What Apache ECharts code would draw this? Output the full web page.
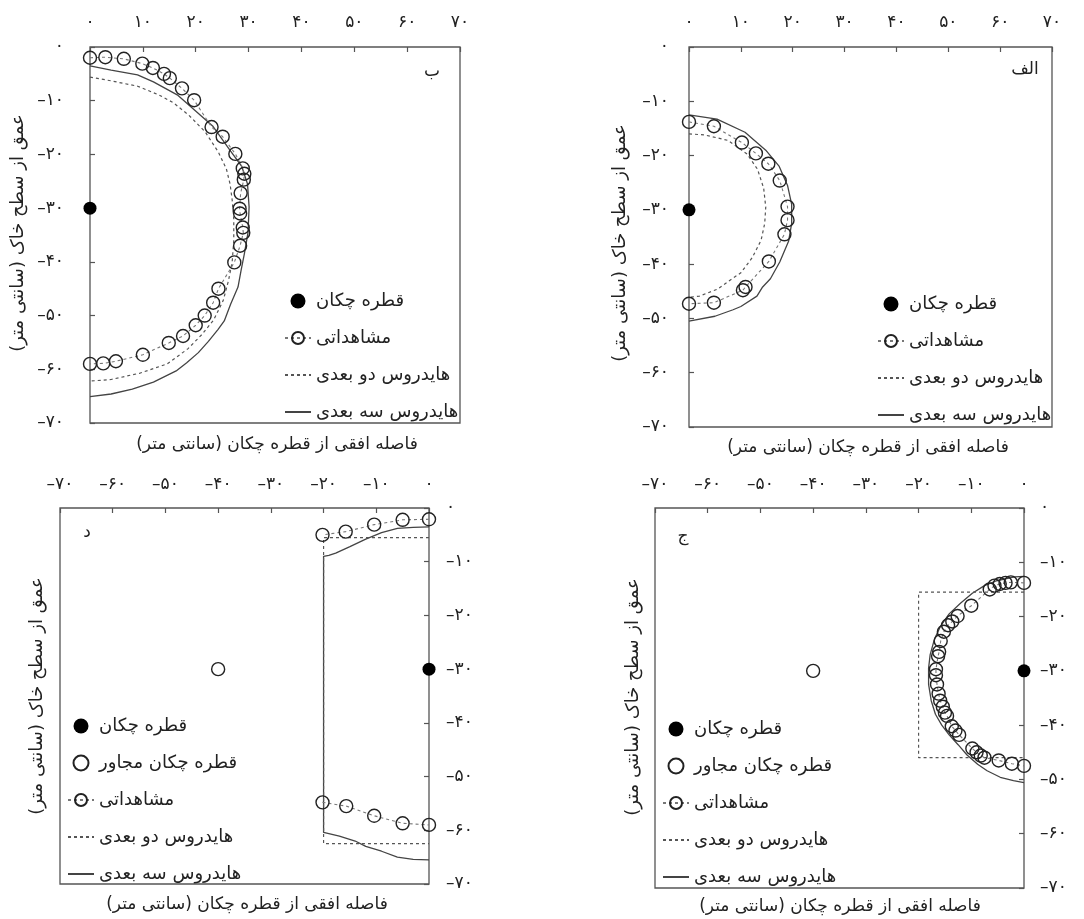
<!DOCTYPE html>
<html lang="en">
<head>
<meta charset="UTF-8">
<title>Wetting front - HYDRUS 2D / 3D</title>
<style>
    html, body { margin: 0; padding: 0; background: #fff; }
    #chart { width: 1084px; height: 919px; }
</style>
</head>
<body>
<div id="chart"></div>
<script src="https://cdn.jsdelivr.net/npm/echarts@6/dist/echarts.min.js"></script>
<script>
// ---- tick labels (Persian digits) ----
var posXLabels = ['۰', '۱۰', '۲۰', '۳۰', '۴۰', '۵۰', '۶۰', '۷۰'];
var negXLabels = ['–۷۰', '–۶۰', '–۵۰', '–۴۰', '–۳۰', '–۲۰', '–۱۰', '۰'];
var depthLabels = ['۰', '–۱۰', '–۲۰', '–۳۰', '–۴۰', '–۵۰', '–۶۰', '–۷۰'];

// ---- names ----
var RLM = '\u200F';
var nameEmitter = 'قطره چکان';
var nameNeighbor = 'قطره چکان مجاور';
var nameObserved = 'مشاهداتی';
var name2D = 'هایدروس دو بعدی';
var name3D = 'هایدروس سه بعدی';
var xTitle = 'فاصله افقی از قطره چکان (سانتی متر)' + RLM;
var yTitle = 'عمق از سطح خاک (سانتی متر)' + RLM;

// ---- panel الف ----
var alefEmitter = [[0, -30]];
var alefObserved = [[0, -13.8], [4.8, -14.6], [10.2, -17.6], [12.9, -19.6], [15.3, -21.5], [17.5, -24.6],
    [19, -29.4], [19, -31.9], [18.4, -34.5], [15.4, -39.5], [10.9, -44.2], [10.4, -44.8], [4.8, -47.1], [0, -47.3]];
var alef2D = [[0, -16], [3, -16.2], [7.5, -17.2], [11.2, -19.7], [13.2, -22.5], [14.4, -26], [14.8, -29.5],
    [14.6, -32.5], [13.9, -35.6], [12.2, -38.8], [10, -41.6], [8.3, -42.7], [5.5, -44.6], [2, -45.9], [0, -46.1]];
var alef3D = [[0, -12.5], [5.4, -13.3], [10.8, -15.7], [14.8, -19], [17.4, -22], [19, -25.5], [19.8, -29],
    [19.8, -32.5], [19.2, -35.8], [17.5, -39.6], [15.7, -42.7], [14.2, -44.2], [13.1, -45.9], [10, -47.8],
    [8.5, -48.4], [5, -49.6], [0, -50.5]];

// ---- panel ب ----
var beEmitter = [[0, -30]];
var beObserved = [[0, -2], [2.9, -1.9], [6.4, -2.2], [9.9, -3.1], [11.9, -3.9], [14, -5], [15.1, -5.8],
    [17.4, -7.7], [19.7, -9.9], [23, -14.9], [25.1, -16.7], [27.5, -19.9], [28.9, -22.6], [29.2, -23.6],
    [29.1, -24.7], [28.5, -27.2], [28.3, -30.1], [28.4, -31], [28.9, -33.6], [29, -34.6], [28.4, -37],
    [27.3, -40.1], [24.3, -45], [23.3, -47.6], [21.7, -50], [20, -51.8], [17.6, -53.8], [14.9, -55.1],
    [10, -57.3], [4.9, -58.5], [2.5, -58.9], [0, -59]];
var be2D = [[0, -5.6], [4, -6.3], [9, -7.3], [13, -8.9], [15.8, -10.4], [18.7, -12.7], [21.8, -15.8],
    [24.3, -19.6], [25.8, -22.7], [26.5, -25.5], [26.9, -28.5], [27.2, -32], [27.2, -36], [26.9, -40],
    [26.2, -43.5], [25.2, -47.2], [23.4, -50.8], [21.2, -53.5], [18.5, -56.2], [14.6, -59], [9.5, -60.7],
    [4, -61.9], [0, -62.2]];
var be3D = [[0, -3.5], [4, -4.3], [9, -5.2], [12, -6.5], [16.5, -8.9], [19.5, -11.5], [23.2, -14.7],
    [26.6, -19.4], [28.7, -22.2], [29.8, -25.5], [30.1, -29.8], [29.9, -34.5], [29.2, -38.5], [28.6, -41.5],
    [28, -44.7], [26.6, -47.9], [25.4, -51], [24.2, -52.6], [22.4, -54.8], [20.5, -56.9], [18.3, -58.8],
    [16.3, -60.3], [12, -62.4], [8, -63.7], [4, -64.6], [0, -65.1]];

// ---- panel ج ----
var jimEmitter = [[0, -30]];
var jimNeighbor = [[-40, -30]];
var jimObserved = [[0, -13.8], [-2.5, -13.7], [-3.5, -13.8], [-4.6, -14], [-5.6, -14.3], [-6.5, -15],
    [-10, -18], [-12.6, -19.9], [-13.6, -20.9], [-14.4, -21.6], [-15.2, -22.8], [-15.8, -24.5],
    [-16.1, -26.5], [-16.3, -27.3], [-16.7, -29.7], [-16.7, -30.8], [-16.5, -32.5], [-16.2, -34.2],
    [-15.9, -35.5], [-15.4, -36.6], [-15, -37.7], [-14.6, -38.3], [-13.7, -40.2], [-13, -41],
    [-12.3, -41.8], [-9.8, -44.3], [-9, -45], [-8.2, -45.6], [-7.5, -46], [-4.8, -46.5], [-2.3, -47.1],
    [0, -47.5]];
var jim2D = [[0, -15.5], [-20, -15.5], [-20, -46], [0, -46]];
var jim3D = [[0, -12.6], [-1.8, -12.7], [-5.2, -13.4], [-7.5, -14.3], [-9.8, -15.7], [-12, -17.5],
    [-14.2, -19.5], [-15.8, -21.7], [-17, -24.2], [-17.8, -27], [-18.1, -29.5], [-18.1, -32.5],
    [-17.6, -35.5], [-16.8, -38], [-15.6, -40], [-14.2, -41.8], [-12.5, -43.6], [-10.8, -45.5],
    [-8.8, -47.2], [-7, -48.4], [-4.5, -49.6], [-2, -50.2], [0, -50.6]];

// ---- panel د ----
var dalEmitter = [[0, -30]];
var dalNeighbor = [[-40, -30]];
var dalObserved = [[0, -2.1], [-5, -2.2], [-10.4, -3.1], [-15.8, -4.4], [-20.2, -5],
    null, [-20.2, -54.8], [-15.7, -55.5], [-10.4, -57.3], [-5, -58.7], [0, -59]];
var dal2D = [[0, -5.5], [-20, -5.5], [-20, -62.5], [0, -62.5]];
var dal3D = [[0, -3.5], [-3, -3.6], [-6, -3.8], [-9, -4.6], [-12, -5.8], [-15, -7.2], [-17.7, -8.4],
    [-19, -8.8], [-20, -9], [-20, -60.4], [-17, -61.1], [-14, -62], [-12, -63], [-9, -63.9], [-6, -65],
    [-3, -65.4], [0, -65.5]];

var FONT = "'DejaVu Sans', 'Noto Sans', sans-serif";
var INK = '#222';
var FRAME = '#555';

var panels = [
    { letter: 'ب', grid: { left: 90, top: 47, width: 370, height: 376 }, neg: false, yPos: 'left', yMargin: 26, xMargin: 16,
      emitter: beEmitter, neighbor: null, observed: beObserved, h2: be2D, h3: be3D,
      legend: { left: 279, top: 287 }, letterPos: [432, 72], xt: [277, 445], yt: [18, 233] },
    { letter: 'الف', grid: { left: 689, top: 47, width: 363, height: 380 }, neg: false, yPos: 'left', yMargin: 20, xMargin: 16,
      emitter: alefEmitter, neighbor: null, observed: alefObserved, h2: alef2D, h3: alef3D,
      legend: { left: 872, top: 290 }, letterPos: [1025, 70], xt: [868, 448], yt: [620, 243] },
    { letter: 'د', grid: { left: 60, top: 508, width: 369, height: 376 }, neg: true, yPos: 'right', yMargin: 17, xMargin: 15,
      emitter: dalEmitter, neighbor: dalNeighbor, observed: dalObserved, h2: dal2D, h3: dal3D,
      legend: { left: 62, top: 712 }, letterPos: [87, 533], xt: [247, 905], yt: [37, 696] },
    { letter: 'ج', grid: { left: 655, top: 508, width: 369, height: 380 }, neg: true, yPos: 'right', yMargin: 16, xMargin: 15,
      emitter: jimEmitter, neighbor: jimNeighbor, observed: jimObserved, h2: jim2D, h3: jim3D,
      legend: { left: 657, top: 715 }, letterPos: [683, 537], xt: [840, 907], yt: [633, 697] }
];

var grids = [], xAxes = [], yAxes = [], series = [], legends = [], graphics = [];
var noSymbol = { color: 'rgba(0,0,0,0)', borderColor: 'rgba(0,0,0,0)', borderWidth: 0 };

panels.forEach(function (p, i) {
    grids.push({
        left: p.grid.left, top: p.grid.top, width: p.grid.width, height: p.grid.height,
        show: true, borderColor: FRAME, borderWidth: 1.3, backgroundColor: 'transparent',
        containLabel: false, outerBoundsMode: 'none'
    });
    var xl = p.neg ? negXLabels : posXLabels;
    xAxes.push({
        gridIndex: i, type: 'value', position: 'top',
        min: p.neg ? -70 : 0, max: p.neg ? 0 : 70, interval: 10,
        axisLine: { show: false },
        axisTick: { show: true, inside: true, length: 5, lineStyle: { color: FRAME, width: 1.2 } },
        splitLine: { show: false },
        axisLabel: {
            margin: p.xMargin, color: INK, fontSize: 17, fontFamily: FONT,
            formatter: function (v) { return xl[Math.round((p.neg ? v + 70 : v) / 10)]; }
        }
    });
    yAxes.push({
        gridIndex: i, type: 'value', position: p.yPos,
        min: -70, max: 0, interval: 10,
        axisLine: { show: false },
        axisTick: { show: true, inside: true, length: 5, lineStyle: { color: FRAME, width: 1.2 } },
        splitLine: { show: false },
        axisLabel: {
            margin: p.yMargin, color: INK, fontSize: 17, fontFamily: FONT,
            formatter: function (v) { return depthLabels[Math.round(-v / 10)]; }
        }
    });

    series.push({
        name: name3D, type: 'line', xAxisIndex: i, yAxisIndex: i, data: p.h3,
        symbol: 'none', z: 2,
        lineStyle: { color: '#444', width: 1.3, type: 'solid' },
        itemStyle: { color: '#444' }
    });
    series.push({
        name: name2D, type: 'line', xAxisIndex: i, yAxisIndex: i, data: p.h2,
        symbol: 'none', z: 2,
        lineStyle: { color: '#555', width: 1.2, type: [3, 3] },
        itemStyle: { color: '#555' }
    });
    series.push({
        name: nameObserved, type: 'line', xAxisIndex: i, yAxisIndex: i, data: p.observed,
        symbol: 'circle', symbolSize: 13, showSymbol: true, connectNulls: false, z: 3,
        lineStyle: { color: '#777', width: 1.1, type: [3, 3] },
        itemStyle: { color: 'rgba(255,255,255,0)', borderColor: INK, borderWidth: 1.4 }
    });
    series.push({
        name: nameEmitter, type: 'scatter', xAxisIndex: i, yAxisIndex: i, data: p.emitter,
        symbol: 'circle', symbolSize: 13, z: 4,
        itemStyle: { color: '#000', opacity: 1 }
    });
    var legendData = [nameEmitter];
    if (p.neighbor) {
        series.push({
            name: nameNeighbor, type: 'scatter', xAxisIndex: i, yAxisIndex: i, data: p.neighbor,
            symbol: 'circle', symbolSize: 13, z: 4,
            itemStyle: { color: '#fff', borderColor: INK, borderWidth: 1.4, opacity: 1 }
        });
        legendData.push(nameNeighbor);
    }
    legendData.push(nameObserved,
        { name: name2D, itemStyle: noSymbol },
        { name: name3D, itemStyle: noSymbol });

    legends.push({
        left: p.legend.left, top: p.legend.top, orient: 'vertical',
        itemWidth: 26, itemHeight: 15, itemGap: 19, selectedMode: false,
        data: legendData,
        textStyle: { fontSize: 18, fontFamily: FONT, color: INK }
    });

    graphics.push({
        type: 'text', x: p.letterPos[0], y: p.letterPos[1],
        style: { text: p.letter, fontSize: 17, fontFamily: FONT, fill: INK, align: 'center', verticalAlign: 'middle' }
    });
    graphics.push({
        type: 'text', x: p.xt[0], y: p.xt[1],
        style: { text: xTitle, fontSize: 17, fontFamily: FONT, fill: INK, align: 'center', verticalAlign: 'middle' }
    });
    graphics.push({
        type: 'text', x: p.yt[0], y: p.yt[1], rotation: Math.PI / 2,
        style: { text: yTitle, fontSize: 18, fontFamily: FONT, fill: INK, align: 'center', verticalAlign: 'middle' }
    });
});

var chart = echarts.init(document.getElementById('chart'));
chart.setOption({
    animation: false,
    backgroundColor: '#fff',
    textStyle: { fontFamily: FONT },
    grid: grids,
    xAxis: xAxes,
    yAxis: yAxes,
    legend: legends,
    graphic: graphics,
    series: series
});
</script>
</body>
</html>
